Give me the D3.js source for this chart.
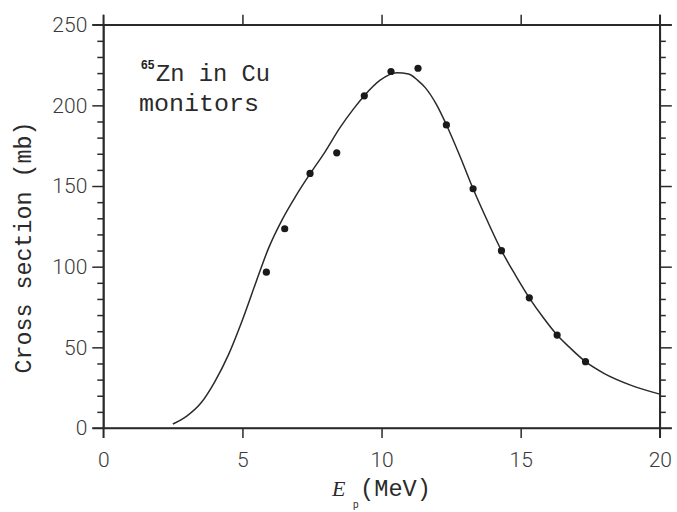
<!DOCTYPE html>
<html>
<head>
<meta charset="utf-8">
<script src="https://cdn.jsdelivr.net/npm/d3@7"></script>
<style>
  html, body { margin: 0; padding: 0; background: #fff; }
  svg { display: block; }
</style>
</head>
<body>
<script>
// ---- data ----
const measEnergy = [5.86, 6.52, 7.43, 8.39, 9.38, 10.34, 11.31, 12.33, 13.29, 14.31, 15.31, 16.31, 17.33];
const measXs     = [96.6, 123.5, 157.8, 170.6, 205.9, 221.0, 223.0, 187.9, 148.3, 109.9, 80.7, 57.6, 41.1];

const curveEnergy = [2.5, 3.0, 3.5, 4.0, 4.5, 5.0, 5.5, 5.94, 6.42, 6.9, 7.44, 7.97, 8.5, 9.0, 9.38, 9.95, 10.55, 10.97, 11.3, 11.57, 11.99, 12.33, 12.83, 13.29, 13.79, 14.31, 14.81, 15.31, 15.83, 16.31, 16.79, 17.33, 17.99, 18.95, 20.0];
const curveXs     = [2.5, 7.4, 15.3, 28.5, 45.5, 67.0, 91.0, 111.5, 128.9, 143.3, 157.8, 171.2, 186.0, 198.0, 206.0, 215.6, 220.2, 219.4, 215.5, 211.0, 200.0, 188.0, 168.0, 148.3, 128.9, 110.0, 94.8, 80.7, 68.0, 57.6, 49.4, 41.1, 33.9, 26.6, 21.0];

const xTicks = [0, 5, 10, 15, 20];
const yTicks = [0, 50, 100, 150, 200, 250];
const yMinor = d3.range(0, 251, 10).filter(v => v % 50 !== 0);

const W = 677, H = 512;
const L = 103.3, R = 659.8, T = 24.7, B = 428;

const svg = d3.select("body").append("svg").attr("width", W).attr("height", H);

const x = d3.scaleLinear().domain([0, 20]).range([L, R]);
const y = d3.scaleLinear().domain([0, 250]).range([B, T]);

const ink = "#2a2a2a";
const tickFont = "Roboto, 'DejaVu Sans', sans-serif";
const textFont = "'Liberation Mono', 'DejaVu Sans Mono', monospace";
const serifFont = "'Liberation Serif', 'DejaVu Serif', serif";

function styleAxis(g) {
  g.selectAll("path.domain").attr("stroke", ink).attr("stroke-width", 1.5);
  g.selectAll(".tick line").attr("stroke", ink).attr("stroke-width", 1.5);
  g.selectAll(".tick text").attr("fill", "#3a3a3a").style("font-family", tickFont)
    .style("font-weight", 300).style("font-size", "21px");
}

// full-length frame lines (extend past the corners like the reference)
svg.append("line").attr("x1", L - 11).attr("x2", R + 12).attr("y1", T).attr("y2", T).attr("stroke", ink).attr("stroke-width", 1.5);
svg.append("line").attr("x1", L - 11).attr("x2", R + 12).attr("y1", B).attr("y2", B).attr("stroke", ink).attr("stroke-width", 1.5);
svg.append("line").attr("x1", L).attr("x2", L).attr("y1", T - 10).attr("y2", B + 10).attr("stroke", ink).attr("stroke-width", 1.5);
svg.append("line").attr("x1", R).attr("x2", R).attr("y1", T - 10).attr("y2", B + 10).attr("stroke", ink).attr("stroke-width", 1.5);

// bottom axis
svg.append("g").attr("transform", `translate(0,${B})`)
  .call(d3.axisBottom(x).tickValues(xTicks).tickSize(10).tickSizeOuter(0).tickPadding(14).tickFormat(d3.format("d")))
  .call(styleAxis);
// top axis
svg.append("g").attr("transform", `translate(0,${T})`)
  .call(d3.axisTop(x).tickValues(xTicks).tickSize(10).tickSizeOuter(0).tickFormat(""))
  .call(styleAxis);
// left axis major
svg.append("g").attr("transform", `translate(${L},0)`)
  .call(d3.axisLeft(y).tickValues(yTicks).tickSize(11).tickSizeOuter(0).tickPadding(5).tickFormat(d3.format("d")))
  .call(styleAxis);
// left minor
svg.append("g").attr("transform", `translate(${L},0)`)
  .call(d3.axisLeft(y).tickValues(yMinor).tickSize(6).tickSizeOuter(0).tickFormat(""))
  .call(styleAxis);
// right axis major + minor
svg.append("g").attr("transform", `translate(${R},0)`)
  .call(d3.axisRight(y).tickValues(yTicks).tickSize(12).tickSizeOuter(0).tickFormat(""))
  .call(styleAxis);
svg.append("g").attr("transform", `translate(${R},0)`)
  .call(d3.axisRight(y).tickValues(yMinor).tickSize(6).tickSizeOuter(0).tickFormat(""))
  .call(styleAxis);

// curve
const curvePts = curveEnergy.map((e, i) => [e, curveXs[i]]);
svg.append("path")
  .datum(curvePts)
  .attr("fill", "none")
  .attr("stroke", ink)
  .attr("stroke-width", 1.5)
  .attr("d", d3.line().x(d => x(d[0])).y(d => y(d[1])).curve(d3.curveMonotoneX));

// data points
svg.append("g").selectAll("circle")
  .data(measEnergy.map((e, i) => [e, measXs[i]]))
  .join("circle")
  .attr("cx", d => x(d[0]))
  .attr("cy", d => y(d[1]))
  .attr("r", 3.6)
  .attr("fill", "#1a1a1a");

// annotation
const ann = svg.append("g");
ann.append("text").attr("x", 141).attr("y", 69)
  .style("font-family", "'Liberation Sans', Arial, sans-serif").style("font-weight", "bold").style("font-size", "12px")
  .attr("fill", "#222").text("65");
ann.append("text").attr("x", 156).attr("y", 81)
  .style("font-family", textFont).style("font-size", "23px").attr("fill", "#2a2a2a")
  .attr("textLength", 114).attr("lengthAdjust", "spacingAndGlyphs").text("Zn in Cu");
ann.append("text").attr("x", 139).attr("y", 111)
  .style("font-family", textFont).style("font-size", "23px").attr("fill", "#2a2a2a")
  .attr("textLength", 120).attr("lengthAdjust", "spacingAndGlyphs").text("monitors");

// y label
svg.append("text")
  .attr("transform", `translate(31,${(120 + 375) / 2}) rotate(-90)`)
  .attr("text-anchor", "middle")
  .style("font-family", textFont).style("font-size", "23px").attr("fill", "#2a2a2a")
  .attr("textLength", 252).attr("lengthAdjust", "spacingAndGlyphs")
  .text("Cross section (mb)");

// x label
const xl = svg.append("g");
xl.append("text").attr("x", 332).attr("y", 496)
  .style("font-family", serifFont).style("font-style", "italic").style("font-size", "22px").attr("fill", "#2a2a2a")
  .text("E");
xl.append("text").attr("x", 353).attr("y", 508)
  .style("font-family", "Roboto, 'DejaVu Sans', sans-serif").style("font-size", "10px").attr("fill", "#333")
  .text("p");
xl.append("text").attr("x", 360).attr("y", 496)
  .style("font-family", textFont).style("font-size", "23px").attr("fill", "#2a2a2a")
  .attr("textLength", 71).attr("lengthAdjust", "spacingAndGlyphs")
  .text("(MeV)");
</script>
</body>
</html>
